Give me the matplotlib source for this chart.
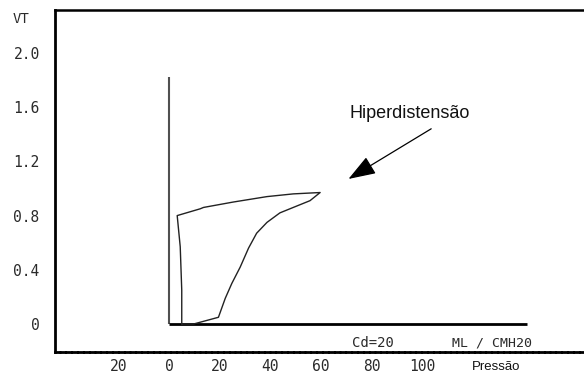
import matplotlib
matplotlib.use("Agg")
import matplotlib.pyplot as plt

# Data (Pressão in cmH2O, VT in L)
loop_pressure = [5.0, 5.0, 4.4, 3.2, 12.3, 13.6, 25.4, 38.7, 49.1, 59.7,
                 55.7, 50.4, 43.8, 38.7, 34.6, 31.4, 28.1, 24.8, 22.2, 19.5,
                 9.6, 5.0]
loop_volume = [0.0, 0.25, 0.57, 0.80, 0.85, 0.86, 0.90, 0.94, 0.96, 0.97,
               0.91, 0.87, 0.82, 0.75, 0.67, 0.56, 0.42, 0.30, 0.19, 0.05,
               0.0, 0.0]

x_ticks = [-20, 0, 20, 40, 60, 80, 100]
x_tick_labels = ["20", "0", "20", "40", "60", "80", "100"]
y_ticks = [0, 0.4, 0.8, 1.2, 1.6, 2.0]
y_tick_labels = ["0", "0.4", "0.8", "1.2", "1.6", "2.0"]

inner_x_axis_end = 141.5
inner_y_axis_end = 1.82

arrow_tip = (70.9, 1.07)
arrow_tail = (103.6, 1.44)

fig = plt.figure(figsize=(5.84, 3.78), dpi=100)
ax = fig.add_axes([55 / 584, 26 / 378, 1 - 55 / 584, (352 - 10) / 378])
ax.set_xlim(-45.1, 164.0)
ax.set_ylim(-0.206, 2.316)

mono = "DejaVu Sans Mono"
ax.set_xticks(x_ticks, x_tick_labels, fontfamily=mono, fontsize=10.5)
ax.set_yticks(y_ticks, y_tick_labels, fontfamily=mono, fontsize=10.5)
ax.tick_params(axis="both", length=0, colors="#2a2a2a")
ax.tick_params(axis="y", pad=11)
ax.tick_params(axis="x", pad=5)

ax.spines["right"].set_visible(False)
ax.spines["left"].set_linewidth(2)
ax.spines["top"].set_linewidth(1.8)
ax.spines["bottom"].set_linewidth(2)
ax.spines["bottom"].set_linestyle((0, (1.5, 0.6)))

# inner axes of the loop
ax.plot([0, 0], [0, inner_y_axis_end], color="#505050", lw=1.5, solid_capstyle="butt")
ax.plot([0, inner_x_axis_end], [0, 0], color="black", lw=2, solid_capstyle="butt")

# pressure-volume loop
ax.plot(loop_pressure, loop_volume, color="#222222", lw=1.0)

# annotation
ax.annotate("", xy=arrow_tip, xytext=arrow_tail,
            arrowprops=dict(arrowstyle="-|>,head_length=1.7,head_width=0.6",
                            color="black", lw=0.9, shrinkA=0, shrinkB=0))
ax.text(71.5, 1.52, "Hiperdistensão", fontfamily="Liberation Sans",
        fontsize=13, ha="left", va="baseline", color="#111111")

ax.text(72.3, -0.14, "Cd=20", fontfamily=mono, fontsize=10, ha="left",
        va="center", color="#2a2a2a")
ax.text(111.9, -0.14, "ML / CMH20", fontfamily=mono, fontsize=9.5, ha="left",
        va="center", color="#2a2a2a")

fig.text(472 / 584, 1 - 367 / 378, "Pressão", fontfamily="Liberation Sans",
         fontsize=9.5, ha="left", va="center", color="#111111")
fig.text(13 / 584, 1 - 19 / 378, "VT", fontfamily=mono, fontsize=10,
         ha="left", va="center", color="#2a2a2a")

fig.savefig("out.png", dpi=100)
